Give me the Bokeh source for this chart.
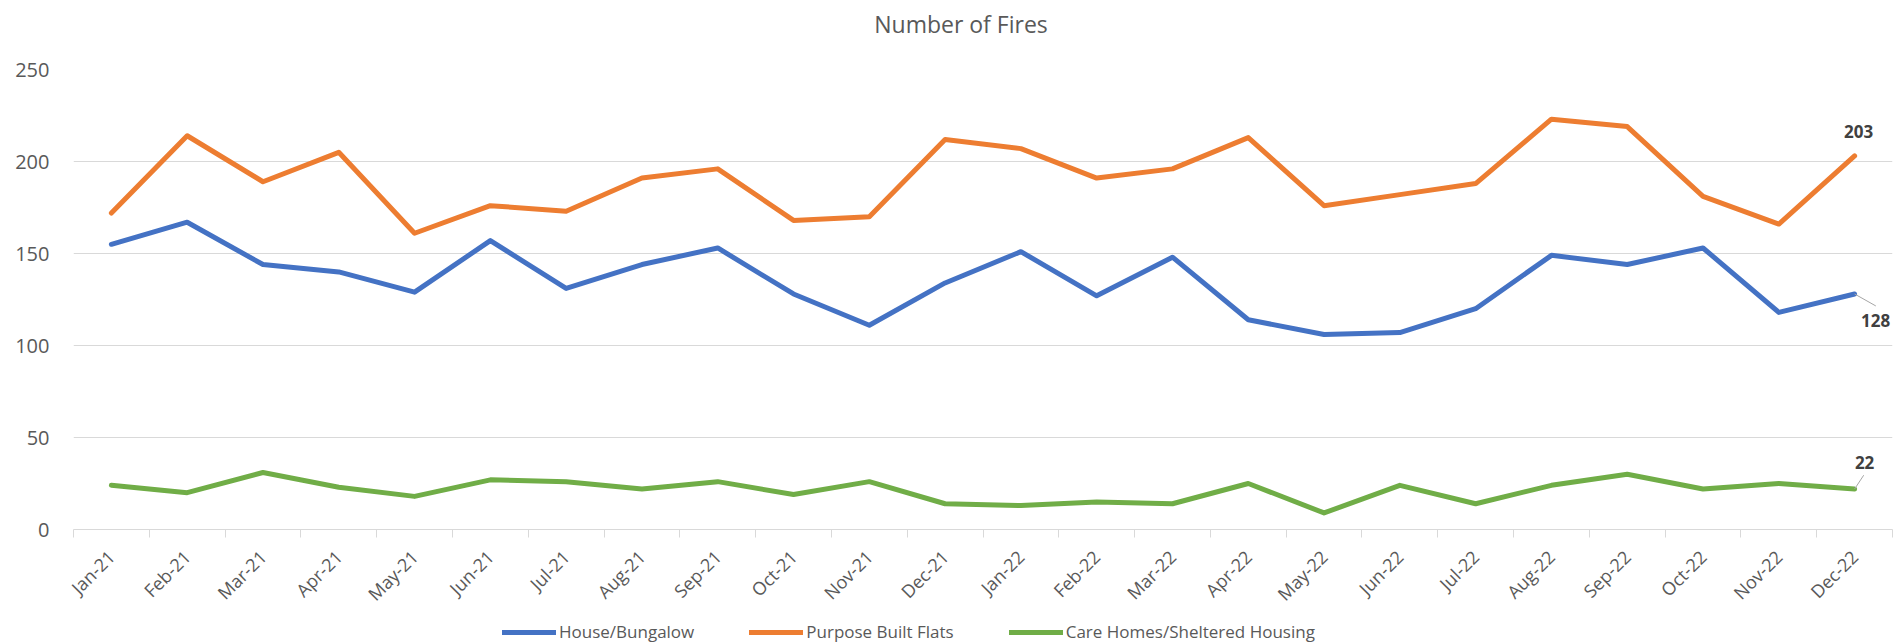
from math import pi
from bokeh.plotting import figure
from bokeh.layouts import column
from bokeh.models import (Range1d, FixedTicker, Legend, LegendItem, Label)
from bokeh.embed import file_html
from bokeh.resources import INLINE

months = ["Jan-21", "Feb-21", "Mar-21", "Apr-21", "May-21", "Jun-21", "Jul-21", "Aug-21",
          "Sep-21", "Oct-21", "Nov-21", "Dec-21", "Jan-22", "Feb-22", "Mar-22", "Apr-22",
          "May-22", "Jun-22", "Jul-22", "Aug-22", "Sep-22", "Oct-22", "Nov-22", "Dec-22"]
house_bungalow = [155, 167, 144, 140, 129, 157, 131, 144, 153, 128, 111, 134,
                  151, 127, 148, 114, 106, 107, 120, 149, 144, 153, 118, 128]
purpose_built_flats = [172, 214, 189, 205, 161, 176, 173, 191, 196, 168, 170, 212,
                       207, 191, 196, 213, 176, 182, 188, 223, 219, 181, 166, 203]
care_homes = [24, 20, 31, 23, 18, 27, 26, 22, 26, 19, 26, 14,
              13, 15, 14, 25, 9, 24, 14, 24, 30, 22, 25, 22]
y_ticks = [0, 50, 100, 150, 200, 250]
series_names = ["House/Bungalow", "Purpose Built Flats", "Care Homes/Sheltered Housing"]
colors = ["#4472C4", "#ED7D31", "#70AD47"]
title_text = "Number of Fires"

FONT = "Open Sans"
TXT = "#595959"
GRID = "#D9D9D9"

idx = list(range(len(months)))
series = [house_bungalow, purpose_built_flats, care_homes]
x_rng = Range1d(-0.5, len(months) - 0.5)

# ---- title strip ----
tf = figure(width=1896, height=46, output_backend="svg", toolbar_location=None,
            x_axis_type=None, y_axis_type=None, x_range=x_rng, y_range=Range1d(0, 1),
            min_border=0)
tf.outline_line_color = None
tf.grid.visible = False
tf.title = None
tf.add_layout(Label(x=(idx[0] + idx[-1]) / 2, y=0.5, text=title_text, x_offset=-22,
                    text_font=FONT, text_font_size="23px", text_color=TXT,
                    text_align="center", text_baseline="middle"))

# ---- main chart ----
p = figure(width=1896, height=571, output_backend="svg", toolbar_location=None,
           x_range=x_rng, y_range=Range1d(y_ticks[0], y_ticks[-1]),
           min_border_left=73, min_border_right=4, min_border_top=23, min_border_bottom=87)
p.title = None
p.outline_line_color = None
p.background_fill_color = "white"
p.border_fill_color = "white"

p.yaxis.ticker = FixedTicker(ticks=y_ticks)
p.yaxis.axis_line_color = None
p.yaxis.major_tick_line_color = None
p.yaxis.minor_tick_line_color = None
p.yaxis.major_tick_out = 0
p.yaxis.major_label_standoff = 24
p.yaxis.major_label_text_font = FONT
p.yaxis.major_label_text_font_size = "20px"
p.yaxis.major_label_text_color = TXT

boundaries = [i - 0.5 for i in range(len(months) + 1)]
p.xaxis.ticker = FixedTicker(ticks=idx, minor_ticks=boundaries)
p.xaxis.major_label_overrides = {i: m for i, m in enumerate(months)}
p.xaxis.axis_line_color = GRID
p.xaxis.axis_line_width = 1
p.xaxis.major_tick_line_color = None
p.xaxis.major_tick_out = 0
p.xaxis.major_tick_in = 0
p.xaxis.minor_tick_line_color = GRID
p.xaxis.minor_tick_out = 8
p.xaxis.minor_tick_in = 0
p.xaxis.major_label_orientation = pi / 4
p.xaxis.major_label_standoff = 16
p.xaxis.major_label_text_font = FONT
p.xaxis.major_label_text_font_size = "18px"
p.xaxis.major_label_text_color = TXT

p.xgrid.grid_line_color = None
p.ygrid.ticker = FixedTicker(ticks=y_ticks)
p.ygrid.grid_line_color = GRID
p.ygrid.grid_line_width = 1

for vals, col in zip(series, colors):
    p.line(idx, vals, line_color=col, line_width=5, line_join="round", line_cap="round")

# leader lines (last points)
last = len(months) - 1
p.segment(x0=[last, last], y0=[house_bungalow[-1], care_homes[-1]],
          x1=[last + 0.28, last + 0.12], y1=[house_bungalow[-1] - 6.5, care_homes[-1] + 7.5],
          line_color="#A6A6A6", line_width=1)

label_style = dict(text_font=FONT, text_font_size="17px", text_font_style="bold",
                   text_color="#404040", text_align="center", text_baseline="middle")
p.add_layout(Label(x=last, y=purpose_built_flats[-1], text=str(purpose_built_flats[-1]),
                   x_offset=4, y_offset=24, **label_style))
p.add_layout(Label(x=last, y=house_bungalow[-1], text=str(house_bungalow[-1]),
                   x_offset=21, y_offset=-27, **label_style))
p.add_layout(Label(x=last, y=care_homes[-1], text=str(care_homes[-1]),
                   x_offset=10, y_offset=27, **label_style))

# ---- legend strip ----
lg = figure(width=1896, height=26, output_backend="svg", toolbar_location=None,
            x_axis_type=None, y_axis_type=None, x_range=x_rng, y_range=Range1d(1000, 1001),
            min_border=0)
lg.outline_line_color = None
lg.grid.visible = False
lg.title = None
lg_renderers = [lg.line(idx, vals, line_color=c, line_width=5, line_cap="round")
                for vals, c in zip(series, colors)]
legend = Legend(items=[LegendItem(label=n, renderers=[r]) for n, r in zip(series_names, lg_renderers)],
                orientation="horizontal", location=(429, 0),
                glyph_width=54, glyph_height=22, label_standoff=3, spacing=55,
                padding=0, margin=0, border_line_color=None, background_fill_alpha=0,
                label_text_font=FONT, label_text_font_size="17px", label_text_color=TXT)
lg.add_layout(legend, "center")

layout = column(tf, p, lg, spacing=0)
open("out.html", "w").write(file_html(layout, INLINE))
